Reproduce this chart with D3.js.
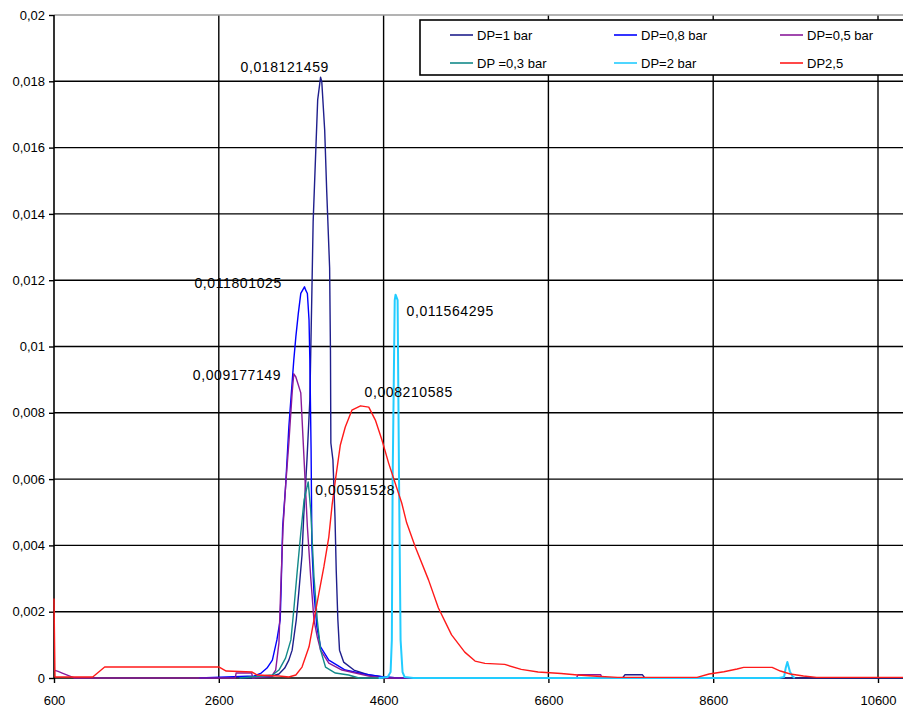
<!DOCTYPE html>
<html>
<head>
<meta charset="utf-8">
<script src="https://cdn.jsdelivr.net/npm/d3@7"></script>
<style>
    body { margin: 0; background: #fff; }
    svg text { font-family: "Liberation Sans", Arial, sans-serif; fill: #000; }
</style>
</head>
<body>
<div id="chart"></div>
<script>
//series data: [x, value]
var dp1 = [[2850,0],[2970,0],[3210,0.00003],[3330,0.00012],[3400,0.0003],[3450,0.00054],[3490,0.00084],
    [3540,0.00175],[3570,0.00256],[3610,0.00371],[3630,0.00486],[3670,0.00658],[3705,0.00839],[3730,0.0117],
    [3745,0.01376],[3775,0.01578],[3800,0.01744],[3835,0.018121459],[3850,0.01798],[3885,0.01653],
    [3910,0.01466],[3945,0.01237],[3955,0.00989],[3960,0.00709],[3985,0.00658],[4010,0.00486],[4025,0.00326],
    [4045,0.00175],[4065,0.00084],[4115,0.00048],[4240,0.00024],[4420,0.00009],[4600,0.00003],[4780,0],
    [5100,0],[7500,0],[7530,0.0001],[7740,0.0001],[7770,0],[10900,0]];
var dp08 = [[2360,0],[3030,0.00006],[3115,0.00015],[3185,0.0003],[3250,0.00054],[3305,0.00115],[3345,0.00175],
    [3355,0.00256],[3375,0.00456],[3410,0.00576],[3450,0.00757],[3510,0.00959],[3535,0.01029],[3565,0.0110],
    [3595,0.0116],[3640,0.011801025],[3655,0.0117],[3675,0.0116],[3695,0.0108],[3705,0.00959],[3720,0.00688],
    [3730,0.00395],[3755,0.00256],[3790,0.00154],[3835,0.00094],[3935,0.00054],[4135,0.00024],[4360,0.00012],
    [4600,0.00003],[4780,0],[5100,0]];
var dp05 = [[600,0.00024],[650,0.0002],[700,0.00015],[800,0.00005],[850,0],[2800,0],[2810,0.00015],
    [3000,0.00015],[3010,0],[3240,0.00005],[3290,0.00024],[3330,0.00106],[3350,0.00256],[3380,0.00456],
    [3410,0.00576],[3450,0.00709],[3490,0.0086],[3510,0.009177149],[3535,0.00908],[3595,0.0086],
    [3635,0.00658],[3675,0.00456],[3715,0.00305],[3755,0.00175],[3795,0.00124],[3835,0.00084],[3935,0.00045],
    [4095,0.00024],[4420,0.00006],[4600,0],[6940,0],[6960,0.0001],[7235,0.0001],[7250,0]];
var dp03 = [[2850,0],[3250,0.00009],[3330,0.00024],[3410,0.0006],[3475,0.00115],[3510,0.00205],[3550,0.00317],
    [3595,0.00437],[3635,0.00537],[3685,0.00591528],[3715,0.00507],[3735,0.00407],[3755,0.00305],
    [3795,0.00175],[3835,0.00084],[3895,0.00033],[4015,0.00015],[4175,0.00009],[4300,0],[4600,0]];
var dp2 = [[4540,0],[4650,0.00003],[4685,0.00018],[4700,0.00115],[4710,0.00606],[4735,0.0114],
    [4745,0.011564295],[4770,0.0114],[4787,0.00606],[4806,0.00115],[4830,0.00018],[4855,0.00003],[4960,0],
    [9400,0],[9460,0.00003],[9480,0.0003],[9500,0.00048],[9530,0.0002],[9560,0.00006],[9590,0]];
var dp25 = [[600,0.0024],[612,0.00003],[1070,0.00003],[1215,0.00033],[2605,0.00033],[2690,0.00021],
    [3005,0.00018],[3065,0.00009],[3330,0.00006],[3450,0.00003],[3535,0.00009],[3610,0.00033],[3695,0.00094],
    [3755,0.00175],[3815,0.00256],[3875,0.00335],[3935,0.00425],[3975,0.00522],[4015,0.00597],[4075,0.00703],
    [4135,0.00757],[4215,0.00808],[4320,0.008210585],[4420,0.00817],[4500,0.00778],[4580,0.00718],
    [4660,0.00649],[4740,0.00588],[4820,0.00528],[4880,0.00468],[4985,0.00395],[5145,0.00296],[5265,0.00211],
    [5425,0.0013],[5585,0.00078],[5710,0.00051],[5830,0.00044],[6070,0.00041],[6270,0.00026],[6475,0.00018],
    [6755,0.000136],[6955,0.00009],[7235,0.000045],[7440,0.00002],[8405,0.00002],[8550,0.00012],
    [8730,0.00019],[8890,0.00027],[8970,0.00032],[9315,0.00032],[9415,0.00021],[9535,0.00012],
    [9695,0.00006],[9855,0.00002],[11200,0.00002]];

var seriesNames = ['DP=1 bar', 'DP=0,8 bar', 'DP=0,5 bar', 'DP =0,3 bar', 'DP=2 bar', 'DP2,5'];
var seriesColors = ['#1f1f8c', '#0000ff', '#8a1a9a', '#138a8a', '#22ccff', '#ff1a1a'];
var seriesData = [dp1, dp08, dp05, dp03, dp2, dp25];

var xTicks = [600, 2600, 4600, 6600, 8600, 10600];
var yTicks = [0, 0.002, 0.004, 0.006, 0.008, 0.01, 0.012, 0.014, 0.016, 0.018, 0.02];

//peak labels: series index, point value, text offset
var peakLabels = [
    { s: 0, x: 3835, y: 0.018121459, text: '0,018121459', dx: -80, dy: -5 },
    { s: 1, x: 3640, y: 0.011801025, text: '0,011801025', dx: -110, dy: 1 },
    { s: 4, x: 4745, y: 0.011564295, text: '0,011564295', dx: 11, dy: 21 },
    { s: 2, x: 3510, y: 0.009177149, text: '0,009177149', dx: -101, dy: 6 },
    { s: 5, x: 4320, y: 0.008210585, text: '0,008210585', dx: 4, dy: -9 },
    { s: 3, x: 3685, y: 0.00591528, text: '0,00591528', dx: 7, dy: 13 }
];

(function drawChart(){
    var width = 903, height = 713,
        plotLeft = 54, plotTop = 15, plotBottom = 678, plotRight = 903;

    var svg = d3.select('#chart')
        .append('svg')
        .attr('width', width)
        .attr('height', height);

    svg.append('rect').attr('width', width).attr('height', height).attr('fill', '#fff');

    var x = d3.scaleLinear().domain([600, 10600]).range([plotLeft, 878]);
    var y = d3.scaleLinear().domain([0, 0.02]).range([plotBottom, plotTop]);

    function decComma(v){
        return String(+v.toFixed(3)).replace('.', ',');
    }

    //grid
    svg.append('g')
        .selectAll('line')
        .data(yTicks.filter(function(d){ return d > 0 && d < 0.02; }))
        .enter()
        .append('line')
        .attr('x1', plotLeft).attr('x2', plotRight)
        .attr('y1', function(d){ return y(d); })
        .attr('y2', function(d){ return y(d); })
        .attr('stroke', '#000').attr('stroke-width', 1.4);

    svg.append('g')
        .selectAll('line')
        .data(xTicks.slice(1))
        .enter()
        .append('line')
        .attr('y1', plotTop).attr('y2', plotBottom)
        .attr('x1', function(d){ return x(d); })
        .attr('x2', function(d){ return x(d); })
        .attr('stroke', '#000').attr('stroke-width', 1.4);

    //plot top border
    svg.append('line')
        .attr('x1', plotLeft).attr('x2', plotRight)
        .attr('y1', y(0.02)).attr('y2', y(0.02))
        .attr('stroke', '#9a9a9a').attr('stroke-width', 1.4);

    //axes
    var yAxis = d3.axisLeft(y).tickValues(yTicks).tickSize(5).tickPadding(4).tickFormat(decComma);
    var xAxis = d3.axisBottom(x).tickValues(xTicks).tickSize(5).tickPadding(18).tickFormat(d3.format('d'));

    var gy = svg.append('g').attr('transform', 'translate(' + plotLeft + ',0)').call(yAxis);
    var gx = svg.append('g').attr('transform', 'translate(0,' + plotBottom + ')').call(xAxis);

    [gx, gy].forEach(function(g){
        g.select('.domain').remove();
        g.selectAll('.tick line').attr('stroke', '#000').attr('stroke-width', 1.4);
        g.selectAll('.tick text').style('font-size', '13px').attr('fill', '#000');
    });
    gx.selectAll('.tick text').attr('dy', '0.3em');

    svg.append('line')
        .attr('x1', plotLeft).attr('x2', plotRight)
        .attr('y1', plotBottom).attr('y2', plotBottom)
        .attr('stroke', '#000').attr('stroke-width', 1.6);
    svg.append('line')
        .attr('x1', plotLeft).attr('x2', plotLeft)
        .attr('y1', plotTop).attr('y2', plotBottom)
        .attr('stroke', '#000').attr('stroke-width', 1.6);

    //series lines
    svg.append('clipPath').attr('id', 'plot-clip')
        .append('rect')
        .attr('x', plotLeft - 1).attr('y', plotTop)
        .attr('width', plotRight - plotLeft + 1).attr('height', plotBottom - plotTop + 2);

    var line = d3.line()
        .x(function(d){ return x(d[0]); })
        .y(function(d){ return y(d[1]); });

    svg.append('g')
        .attr('clip-path', 'url(#plot-clip)')
        .selectAll('path')
        .data(seriesData)
        .enter()
        .append('path')
        .attr('d', line)
        .attr('fill', 'none')
        .attr('stroke', function(d, i){ return seriesColors[i]; })
        .attr('stroke-width', function(d, i){ return i === 4 ? 2 : 1.4; })
        .attr('stroke-linejoin', 'round');

    //peak labels
    svg.append('g')
        .selectAll('text')
        .data(peakLabels)
        .enter()
        .append('text')
        .attr('x', function(d){ return x(d.x) + d.dx; })
        .attr('y', function(d){ return y(d.y) + d.dy; })
        .style('font-size', '14px')
        .style('letter-spacing', '0.6px')
        .text(function(d){ return d.text; });

    //legend
    var legend = svg.append('g');
    legend.append('rect')
        .attr('x', 420).attr('y', 20)
        .attr('width', 500).attr('height', 55)
        .attr('fill', '#fff')
        .attr('stroke', '#000').attr('stroke-width', 1.6);

    var legendCols = [450, 614, 780], legendRows = [35, 63];

    var item = legend.selectAll('g')
        .data(seriesNames)
        .enter()
        .append('g')
        .attr('transform', function(d, i){
            return 'translate(' + legendCols[i % 3] + ',' + legendRows[Math.floor(i / 3)] + ')';
        });
    item.append('line')
        .attr('x1', 0).attr('x2', 23)
        .attr('stroke', function(d, i){ return seriesColors[i]; })
        .attr('stroke-width', 1.6);
    item.append('text')
        .attr('x', 27).attr('dy', '0.35em')
        .style('font-size', '13px')
        .text(function(d){ return d; });
})();
</script>
</body>
</html>
